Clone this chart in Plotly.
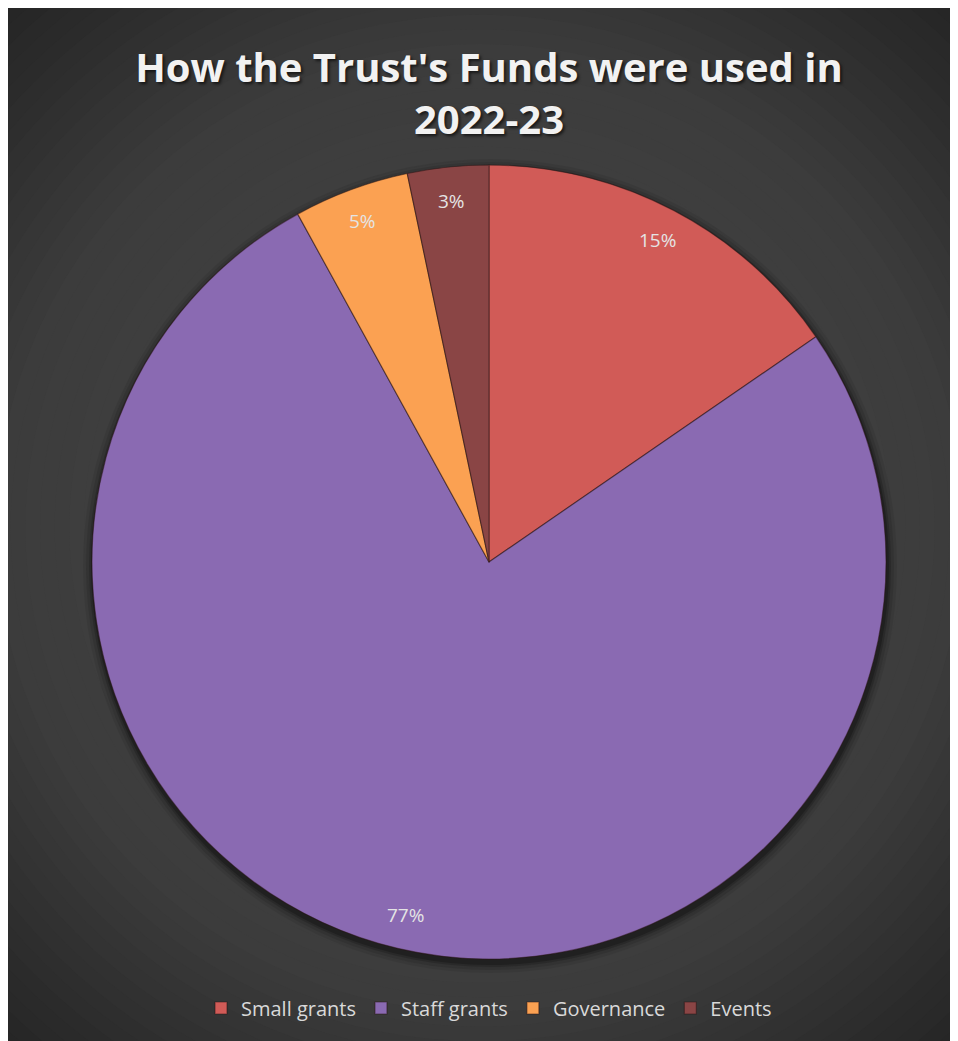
import math
import plotly.graph_objects as go

# ---- data ----
categories = ["Small grants", "Staff grants", "Governance", "Events"]
values = [15.4, 76.6, 4.7, 3.3]
colors = ["#d15b57", "#8a6ab2", "#fba152", "#8a4545"]
title_text = "How the Trust's Funds were used in<br>2022-23"

W, H = 958, 1041
CX, CY, R = 481, 554, 397  # pie centre / radius in pixels (figure coords)

fig = go.Figure()

dom_x = [(CX - R) / W, (CX + R) / W]
dom_y = [1 - (CY + R) / H, 1 - (CY - R) / H]

fig.add_trace(go.Pie(
    labels=categories,
    values=values,
    sort=False,
    direction="clockwise",
    rotation=0,
    marker=dict(colors=colors, line=dict(color="rgba(40,20,20,0.5)", width=1.2)),
    textinfo="none",
    hoverinfo="label+percent",
    domain=dict(x=dom_x, y=dom_y),
    showlegend=True,
))

# background: radial gradient via concentric circles
def grad(r):
    stops = [(0, 0x48), (480, 0x3c), (720, 0x24), (900, 0x20)]
    for (r0, c0), (r1, c1) in zip(stops, stops[1:]):
        if r <= r1:
            return c0 + (c1 - c0) * (r - r0) / (r1 - r0)
    return stops[-1][1]

shapes = []
n = 60
rmax = 880
gx, gy = 472, 520
for i in range(n):
    r = rmax * (1 - i / n)
    c = int(round(grad(r)))
    col = f"rgb({c},{c},{c})"
    shapes.append(dict(type="circle", xref="paper", yref="paper",
                       x0=(gx - r) / W, x1=(gx + r) / W,
                       y0=1 - (gy + r) / H, y1=1 - (gy - r) / H,
                       fillcolor=col, line=dict(width=0), layer="below"))
# soft shadow under pie
for k, a in [(10, 0.07), (7, 0.10), (4, 0.16), (2, 0.22)]:
    shapes.append(dict(type="circle", xref="paper", yref="paper",
                       x0=(CX - R - k + 1) / W, x1=(CX + R + k + 1) / W,
                       y0=1 - (CY + R + k + 4) / H, y1=1 - (CY - R - k + 4) / H,
                       fillcolor=f"rgba(0,0,0,{a})", line=dict(width=0), layer="below"))

# percentage labels at "inside end" positions, derived from the values
total = sum(values)
annotations = []
cum = 0.0
for v in values:
    mid = (cum + v / 2) / total
    cum += v
    th = 2 * math.pi * mid
    rr = 0.915 * R
    px = CX + rr * math.sin(th)
    py = CY - rr * math.cos(th)
    annotations.append(dict(x=px / W, y=1 - py / H, xref="paper", yref="paper",
                            text=f"{round(100 * v / total)}%", showarrow=False,
                            font=dict(family="Open Sans", size=19, color="#e4e4e4"),
                            xanchor="center", yanchor="middle"))

fig.update_layout(
    width=W, height=H,
    margin=dict(l=0, r=0, t=0, b=0),
    paper_bgcolor="#242424",
    plot_bgcolor="rgba(0,0,0,0)",
    shapes=shapes,
    annotations=annotations,
    title=dict(text=title_text, x=CX / W, xanchor="center", y=1 - 74 / H, yanchor="middle",
               font=dict(family="Open Sans", size=40, color="#f2f2f2", weight="bold",
                         shadow="2px 2px 3px rgba(0,0,0,0.6)")),
    legend=dict(orientation="h", x=CX / W, xanchor="center", y=1 - 1000 / H, yanchor="middle",
                font=dict(family="Open Sans", size=20, color="#d9d9d9"),
                bgcolor="rgba(0,0,0,0)", itemwidth=30, traceorder="normal"),
)

fig.write_html(
    "out.html",
    post_script="document.documentElement.style.overflow='hidden';document.body.style.overflow='hidden';",
)
